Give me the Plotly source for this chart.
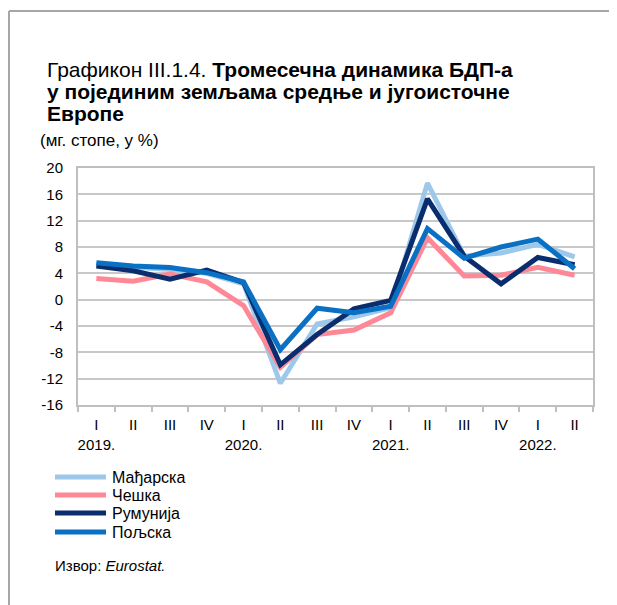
import plotly.graph_objects as go

# Квартали (категорије на x оси) и натписи испод осе
periods = ["2019Q1", "2019Q2", "2019Q3", "2019Q4",
           "2020Q1", "2020Q2", "2020Q3", "2020Q4",
           "2021Q1", "2021Q2", "2021Q3", "2021Q4",
           "2022Q1", "2022Q2"]
tick_labels = ["I<br>2019.", "II", "III", "IV",
               "I<br>2020.", "II", "III", "IV",
               "I<br>2021.", "II", "III", "IV",
               "I<br>2022.", "II"]
y_ticks = [-16, -12, -8, -4, 0, 4, 8, 12, 16, 20]

# мг. стопе раста БДП-а, у %
hungary = [5.3, 4.9, 4.6, 4.0, 2.4, -12.7, -3.7, -2.6, -1.2, 17.7, 6.6, 7.1, 8.4, 6.5]
czech = [3.2, 2.8, 3.9, 2.7, -0.9, -10.3, -5.3, -4.6, -2.0, 9.4, 3.6, 3.7, 4.9, 3.7]
romania = [5.1, 4.4, 3.1, 4.5, 2.6, -9.9, -5.3, -1.4, -0.1, 15.3, 6.6, 2.4, 6.4, 5.3]
poland = [5.6, 5.1, 4.9, 4.1, 2.7, -7.6, -1.3, -2.0, -1.0, 10.8, 6.3, 8.0, 9.2, 4.7]

series_names = ["Мађарска", "Чешка", "Румунија", "Пољска"]
series_values = [hungary, czech, romania, poland]
colors = ["#9dc8ea", "#ff8896", "#0a2d6e", "#0a70c4"]

# страница има 8px маргине, па се слика помера за OFF
OFF = 8
W, H = 617 - OFF, 605 - OFF
# област графикона у координатама екрана (px)
L, T, R, B = 78, 168, 593, 405


def px(x):
    return (x - L) / (R - L)


def py(y):
    return (B - y) / (B - T)


fig = go.Figure()

for name, vals, col in zip(series_names, series_values, colors):
    fig.add_trace(go.Scatter(
        x=periods, y=vals, name=name, mode="lines",
        line=dict(color=col, width=5),
        showlegend=False
    ))

font = "Liberation Sans, Arial, sans-serif"
annotations = []
shapes = []


def text_at(x, y, text, size):
    annotations.append(dict(
        x=px(x), y=py(y), xref="paper", yref="paper",
        xanchor="left", yanchor="middle", text=text, showarrow=False,
        font=dict(size=size, color="black", family=font)))


# Наслов
text_at(45, 70, "Графикон III.1.4. <b>Тромесечна динамика БДП-а</b>", 21)
text_at(45, 92, "<b>у појединим земљама средње и југоисточне</b>", 21)
text_at(45, 114, "<b>Европе</b>", 21)
text_at(38, 140, "(мг. стопе, у %)", 17)

# Легенда (ручно)
legend_rows = [477, 495, 513, 532]
for name, col, yy in zip(series_names, colors, legend_rows):
    shapes.append(dict(type="line", xref="paper", yref="paper",
                       x0=px(55), x1=px(106), y0=py(yy), y1=py(yy),
                       line=dict(color=col, width=5)))
    text_at(110, yy, name, 16)

# Извор
text_at(53, 565, "Извор: <i>Eurostat.</i>", 15)

# Оквир
shapes.append(dict(type="line", xref="paper", yref="paper",
                   x0=px(9), x1=px(640), y0=py(11), y1=py(11),
                   line=dict(color="#a6a6a6", width=2)))
shapes.append(dict(type="line", xref="paper", yref="paper",
                   x0=px(9), x1=px(9), y0=py(11), y1=py(640),
                   line=dict(color="#a6a6a6", width=2)))

fig.update_layout(
    width=W, height=H,
    margin=dict(l=L - OFF, r=W - (R - OFF), t=T - OFF, b=H - (B - OFF)),
    plot_bgcolor="white", paper_bgcolor="white",
    font=dict(family=font, color="black"),
    annotations=annotations,
    shapes=shapes,
    xaxis=dict(
        type="category", tickvals=periods, ticktext=tick_labels,
        tickson="boundaries", ticks="outside", ticklen=5, tickcolor="#bfbfbf", tickwidth=1.5,
        showline=True, linecolor="#bfbfbf", linewidth=2, mirror=True,
        showgrid=False, tickfont=dict(size=15), tickangle=0, ticklabelstandoff=5,
        range=[-0.5, 13.5]
    ),
    yaxis=dict(
        range=[-16, 20], tickvals=y_ticks, ticktext=[str(v) for v in y_ticks],
        showgrid=True, gridcolor="#c8c8c8", gridwidth=1.5,
        showline=True, linecolor="#bfbfbf", linewidth=2, mirror=True,
        zeroline=False, ticks="", tickfont=dict(size=15), ticklabelstandoff=10
    ),
)

fig.write_html("out.html")
